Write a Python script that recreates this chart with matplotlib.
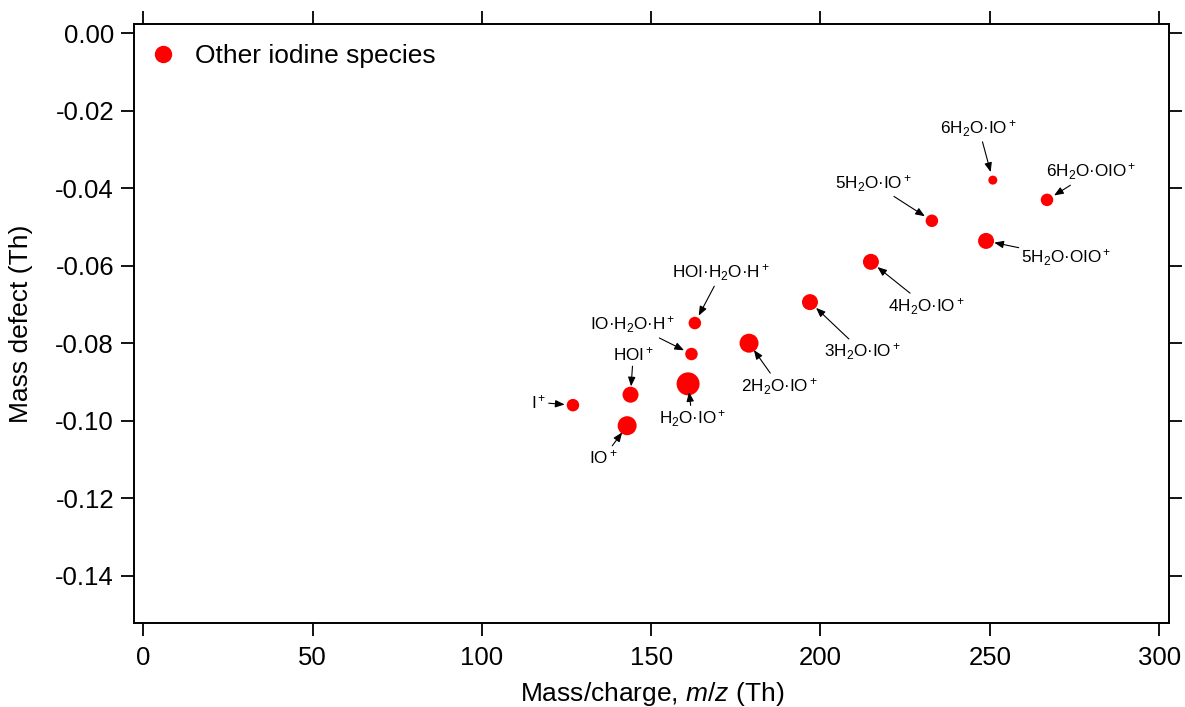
import matplotlib
matplotlib.use("Agg")
import matplotlib.pyplot as plt
from matplotlib.lines import Line2D

plt.rcParams["font.family"] = ["Liberation Sans", "DejaVu Sans"]
plt.rcParams["mathtext.fontset"] = "custom"
plt.rcParams["mathtext.rm"] = "Liberation Sans"
plt.rcParams["mathtext.it"] = "Liberation Sans:italic"

# ----------------------------------------------------------------------------
# Data
species = ["I$^+$", "IO$^+$", "HOI$^+$", "H$_2$O·IO$^+$", "IO·H$_2$O·H$^+$",
           "HOI·H$_2$O·H$^+$", "2H$_2$O·IO$^+$", "3H$_2$O·IO$^+$",
           "4H$_2$O·IO$^+$", "5H$_2$O·IO$^+$", "6H$_2$O·IO$^+$",
           "6H$_2$O·OIO$^+$", "5H$_2$O·OIO$^+$"]
mz = [126.9, 142.9, 143.9, 160.9, 161.9, 162.9, 178.9, 196.9,
      214.9, 232.9, 250.9, 266.9, 248.9]
mass_defect = [-0.0960, -0.1013, -0.0933, -0.0905, -0.0828, -0.0748, -0.0800,
               -0.0694, -0.0590, -0.0484, -0.0379, -0.0430, -0.0536]
# relative signal (drives marker size)
signal = [12.5, 19, 16, 23, 12.5, 12.5, 19, 16, 16, 12.5, 9, 12.5, 16]

# label offsets (points) from each marker
offsets = [(-25, 2), (-17, -23), (2, 29), (3, -25), (-42, 21), (19, 36),
           (22, -31), (38, -36), (40, -32), (-42, 27), (-10, 37), (32, 20),
           (58, -12)]

# ----------------------------------------------------------------------------
fig = plt.figure(figsize=(11.85, 7.07), dpi=100)
ax = fig.add_axes([0.1133, 0.1188, 0.8734, 0.8468])

sizes = [(d * 0.72) ** 2 for d in signal]
ax.scatter(mz, mass_defect, s=sizes, color="#ff0000", edgecolors="none", zorder=3)

for lab, x, y, off in zip(species, mz, mass_defect, offsets):
    ax.annotate(lab, xy=(x, y), xytext=off, textcoords="offset points",
                ha="center", va="center", fontsize=12.3,
                arrowprops=dict(arrowstyle="-|>,head_length=0.45,head_width=0.18",
                                color="black", lw=0.8, shrinkA=0, shrinkB=6))

ax.set_xlim(-2.66, 303.0)
ax.set_ylim(-0.15224, 0.00232)
ax.set_xticks(range(0, 301, 50))
ax.set_yticks([0, -0.02, -0.04, -0.06, -0.08, -0.10, -0.12, -0.14])
ax.set_yticklabels(["0.00", "-0.02", "-0.04", "-0.06", "-0.08", "-0.10",
                    "-0.12", "-0.14"])

for sp in ax.spines.values():
    sp.set_linewidth(1.4)
ax.tick_params(direction="out", length=9.5, width=1.3, labelsize=18.5,
               top=True, right=True, pad=5)
ax.tick_params(axis="x", pad=7)

ax.set_xlabel("Mass/charge, $m/z$ (Th)", fontsize=19, labelpad=7)
ax.set_ylabel("Mass defect (Th)", fontsize=19, labelpad=16)

handle = Line2D([], [], marker="o", ls="", color="#ff0000", markersize=11.5,
                label="Other iodine species")
ax.legend(handles=[handle], loc="upper left", frameon=False, fontsize=19,
          bbox_to_anchor=(0.0, 0.994), handlelength=1.0, handletextpad=0.7,
          borderaxespad=0.2)

plt.savefig("out.png", dpi=100)
